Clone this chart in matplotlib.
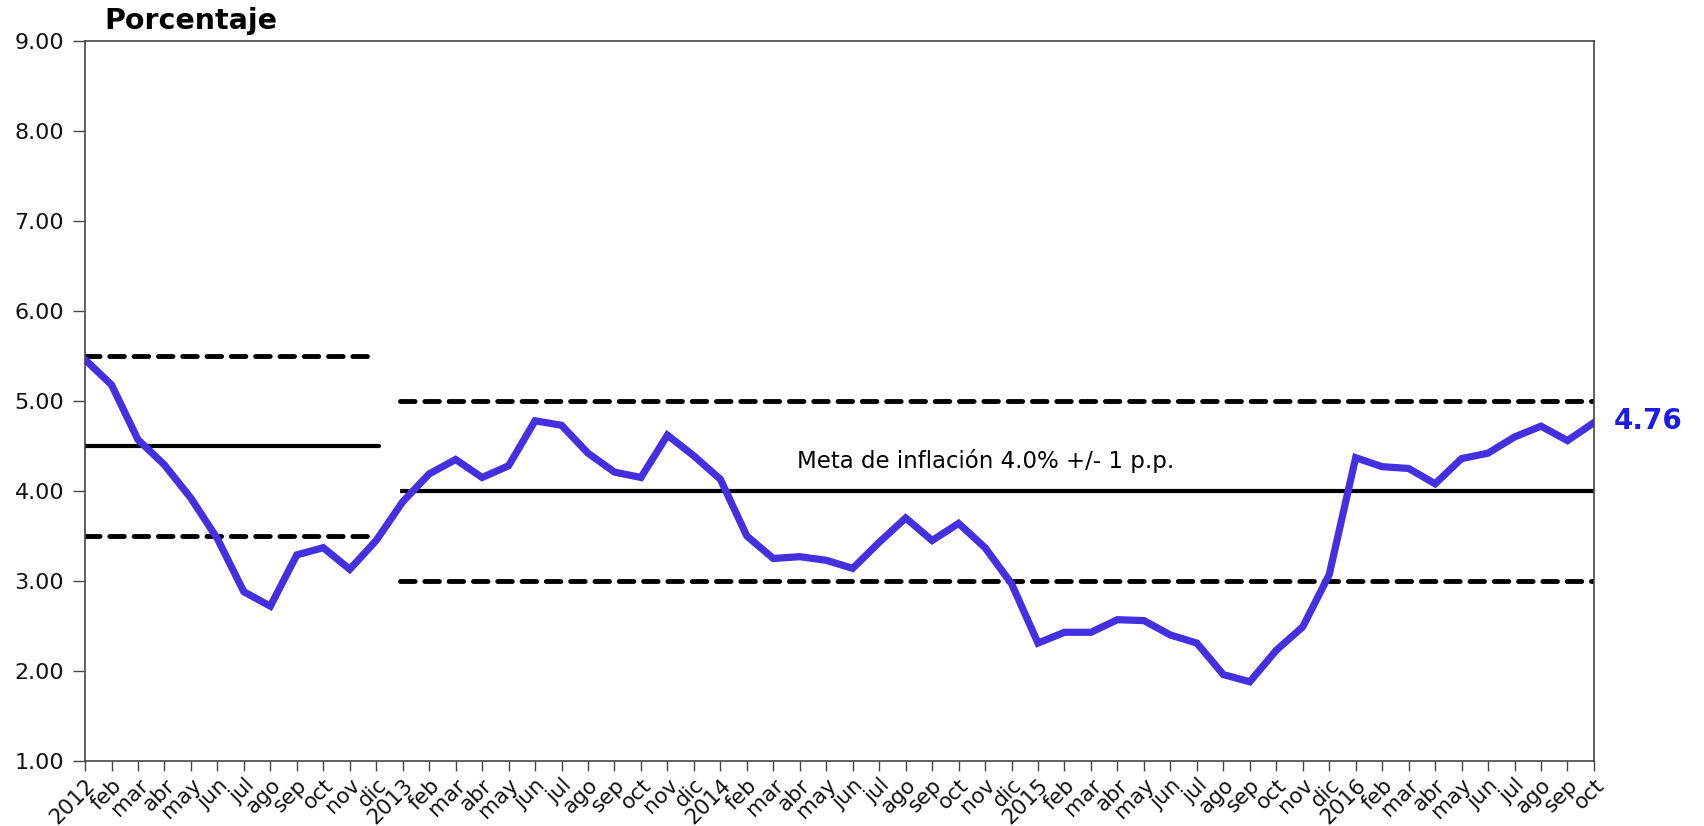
import numpy as np
import matplotlib
matplotlib.use("Agg")
import matplotlib.pyplot as plt

# inflacion interanual, ene-2012 a oct-2016
meses = ["ene", "feb", "mar", "abr", "may", "jun", "jul", "ago", "sep", "oct", "nov", "dic"]
anios = [2012, 2013, 2014, 2015, 2016]
inflacion = [
    5.46, 5.18, 4.57, 4.29, 3.92, 3.47, 2.88, 2.72, 3.29, 3.37, 3.13, 3.45,
    3.88, 4.19, 4.35, 4.15, 4.28, 4.78, 4.73, 4.42, 4.21, 4.15, 4.62, 4.39,
    4.13, 3.50, 3.25, 3.27, 3.23, 3.14, 3.43, 3.70, 3.45, 3.64, 3.37, 2.97,
    2.31, 2.43, 2.43, 2.57, 2.56, 2.40, 2.31, 1.96, 1.88, 2.23, 2.49, 3.07,
    4.37, 4.27, 4.25, 4.08, 4.36, 4.42, 4.60, 4.72, 4.56, 4.76,
]
meta_2012 = 4.5
meta_2013 = 4.0
margen = 1.0

etiquetas = []
for a in anios:
    for m in meses:
        etiquetas.append(str(a) if m == "ene" else m)
etiquetas = etiquetas[:len(inflacion)]
x = np.arange(len(inflacion))

fig = plt.figure(figsize=(17.04, 8.26), dpi=100)
ax = fig.add_axes([0.0499, 0.0787, 0.8855, 0.8717])

# bandas de la meta
ax.plot([0, 10.8], [meta_2012 + margen] * 2, color="black", lw=3.5, ls=(0, (3, 2)), dash_capstyle="round")
ax.plot([0, 10.8], [meta_2012 - margen] * 2, color="black", lw=3.5, ls=(0, (3, 2)), dash_capstyle="round")
ax.plot([0, 11.1], [meta_2012] * 2, color="black", lw=3, solid_capstyle="round")
ax.plot([11.9, 57], [meta_2013 + margen] * 2, color="black", lw=3.5, ls=(0, (3, 2)), dash_capstyle="round")
ax.plot([11.9, 57], [meta_2013 - margen] * 2, color="black", lw=3.5, ls=(0, (3, 2)), dash_capstyle="round")
ax.plot([11.9, 57], [meta_2013] * 2, color="black", lw=3, solid_capstyle="butt")

ax.plot(x, inflacion, color="#4430E0", lw=5.2, solid_joinstyle="miter")

ax.text(26.9, 4.33, "Meta de inflación 4.0% +/- 1 p.p.", fontsize=16.5, va="center", ha="left")
ax.text(1.013, inflacion[-1] + 0.02, f"{inflacion[-1]:.2f}", transform=ax.get_yaxis_transform(),
        color="#1a1aee", fontsize=20, fontweight="bold", va="center", ha="left")
fig.text(0.061, 0.975, "Porcentaje", fontsize=20.5, fontweight="bold", va="center", ha="left")

ax.set_xlim(0, len(inflacion) - 1)
ax.set_ylim(1, 9)
ax.set_yticks(np.arange(1, 10, 1))
ax.set_yticklabels([f"{v:.2f}" for v in np.arange(1, 10, 1)], fontsize=16)
ax.set_xticks(x)
ax.set_xticklabels(etiquetas, rotation=45, ha="right", rotation_mode="anchor", fontsize=15.5)
ax.tick_params(axis="y", direction="out", length=9, width=1, colors="#444444", labelcolor="#111111", pad=6)
ax.tick_params(axis="x", direction="out", length=7, width=1, colors="#444444", labelcolor="#111111", pad=3)
for s in ax.spines.values():
    s.set_color("#444444")
    s.set_linewidth(1.2)

fig.savefig("out.png", dpi=100)
